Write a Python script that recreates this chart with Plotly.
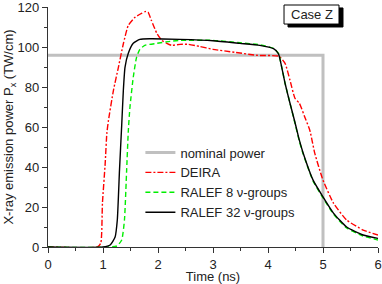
import plotly.graph_objects as go

# Nominal power
nom_t = [0, 5, 5]
nom_p = [96, 96, 0]

# DEIRA
deira_t = [0, 0.9, 0.96, 0.99, 1.04, 1.07, 1.10, 1.19, 1.28, 1.37, 1.46, 1.58, 1.70, 1.78, 1.82,
           1.88, 1.98, 2.07, 2.16, 2.25, 2.4, 2.55, 2.75, 3.0, 3.4, 3.8, 4.2, 4.31, 4.4, 4.49,
           4.57, 4.67, 4.76, 4.85, 5.0, 5.19, 5.43, 5.73, 6.0]
deira_p = [0, 0, 2, 22, 42, 57, 63.5, 78.5, 90, 101.8, 111, 115, 117, 118, 117.6,
           113.5, 107, 103.5, 102, 101, 101.5, 101.5, 100.5, 99, 97.5, 96, 95.5, 92, 83.5, 74.5,
           72, 65, 58.5, 47, 33.5, 22, 13.5, 8.5, 6]

# RALEF 8 groups
r8_t = [0, 1.25, 1.34, 1.39, 1.43, 1.46, 1.49, 1.55, 1.61, 1.67, 1.76, 1.98, 2.22, 2.4, 3.0,
        3.49, 3.85, 4.1, 4.19, 4.25, 4.31, 4.4, 4.49, 4.57, 4.64, 4.82, 4.98, 5.19, 5.43, 5.73, 6.0]
r8_p = [0, 0.5, 3.5, 13.5, 38.5, 58, 70, 85, 95, 99, 101, 102, 103, 103.5, 103.5,
        102.3, 101.3, 99.5, 97, 90, 82, 72, 62, 53, 46.5, 33, 25.5, 16.5, 9.5, 5.5, 3.5]

# RALEF 32 groups
r32_t = [0, 1.0, 1.13, 1.22, 1.26, 1.30, 1.34, 1.37, 1.40, 1.46, 1.55, 1.67, 1.85, 2.4, 3.0,
         3.49, 3.85, 4.1, 4.19, 4.25, 4.31, 4.4, 4.49, 4.57, 4.64, 4.82, 4.98, 5.19, 5.43, 5.73, 6.0]
r32_p = [0, 0, 1, 5, 13.5, 38.5, 61, 78.5, 90, 97, 102, 104, 104.3, 104, 103.3,
         102, 101, 99.3, 96.8, 90, 82, 72, 62.5, 53.5, 47, 33.5, 26, 17, 10, 6, 4.3]

x_ticks = [0, 1, 2, 3, 4, 5, 6]
y_ticks = [0, 20, 40, 60, 80, 100, 120]

FONT = "Liberation Sans, Arial, sans-serif"
TXT = "#222222"

fig = go.Figure()
fig.add_trace(go.Scatter(x=nom_t, y=nom_p, mode="lines", name="nominal power",
                         line=dict(color="#c0c0c0", width=3)))
fig.add_trace(go.Scatter(x=deira_t, y=deira_p, mode="lines", name="DEIRA",
                         line=dict(color="#ff0000", width=1.4, dash="6px,2px,2px,2px",
                                   shape="spline", smoothing=0.5)))
fig.add_trace(go.Scatter(x=r8_t, y=r8_p, mode="lines", name="RALEF 8 ν-groups",
                         line=dict(color="#00ee00", width=1.4, dash="5px,3px",
                                   shape="spline", smoothing=0.5)))
fig.add_trace(go.Scatter(x=r32_t, y=r32_p, mode="lines", name="RALEF 32 ν-groups",
                         line=dict(color="#000000", width=1.4, shape="spline", smoothing=0.5)))

axis_common = dict(showline=True, linecolor="#333333", linewidth=1.2, ticks="outside",
                   ticklen=5, tickwidth=1, tickcolor="#333333", showgrid=False, zeroline=False,
                   tickfont=dict(family=FONT, size=13, color=TXT), mirror=False,
                   automargin=False, ticklabeloverflow="allow")

fig.update_xaxes(range=[0, 6], tickvals=x_ticks, ticktext=[str(v) for v in x_ticks],
                 minor=dict(dtick=0.5, ticks="outside", ticklen=3, tickcolor="#333333"),
                 title=dict(text="Time (ns)", font=dict(family=FONT, size=13, color=TXT),
                            standoff=3),
                 **axis_common)
fig.update_yaxes(range=[0, 120.2], tickvals=y_ticks, ticktext=[str(v) for v in y_ticks],
                 minor=dict(dtick=10, ticks="outside", ticklen=3, tickcolor="#333333"),
                 title=dict(text="X-ray emission power P<sub>x</sub> (TW/cm)",
                            font=dict(family=FONT, size=13, color=TXT), standoff=0),
                 **axis_common)

# Case Z label with shadow
fig.add_shape(type="rect", xref="paper", yref="paper", x0=0.7273, x1=0.8939, y0=0.9167, y1=0.996,
              fillcolor="#000000", line=dict(color="#000000", width=1), layer="above")
fig.add_shape(type="rect", xref="paper", yref="paper", x0=0.7152, x1=0.8818, y0=0.929, y1=1.0083,
              fillcolor="#ffffff", line=dict(color="#000000", width=1), layer="above")
fig.add_annotation(xref="paper", yref="paper", x=0.7985, y=0.9687, text="Case Z",
                   showarrow=False, xanchor="center", yanchor="middle",
                   font=dict(family=FONT, size=13, color=TXT))

fig.update_layout(
    width=382, height=284,
    margin=dict(l=48, r=4, t=7, b=37),
    paper_bgcolor="white", plot_bgcolor="white",
    showlegend=True,
    legend=dict(x=0.28, y=0.456, xanchor="left", yanchor="top",
                bgcolor="rgba(0,0,0,0)", borderwidth=0,
                font=dict(family=FONT, size=13, color=TXT),
                tracegroupgap=0, itemwidth=30),
)

fig.write_html("out.html", config={"displayModeBar": False},
               post_script="document.body.style.margin='0';document.body.style.padding='0';")
